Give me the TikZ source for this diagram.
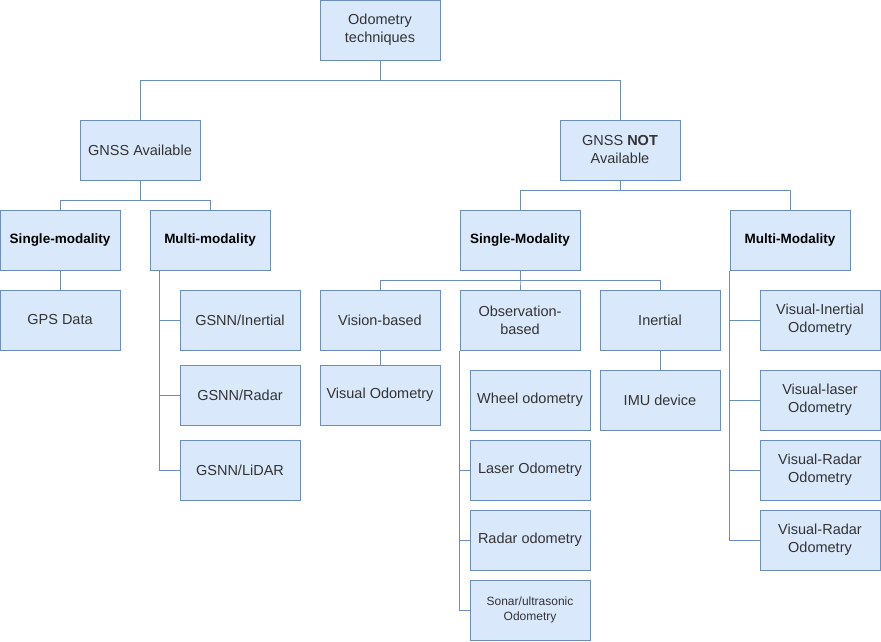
\documentclass[tikz,border=0pt]{standalone}
\usepackage{fontspec}
\setmainfont{Liberation Sans}
\usetikzlibrary{positioning,calc}
\definecolor{boxfill}{HTML}{DAE8FC}
\definecolor{boxline}{HTML}{6C8EBF}
\definecolor{txtgray}{HTML}{333333}
\tikzset{
  techbox/.style={draw=boxline, fill=boxfill, line width=1pt,
    minimum width=120pt, minimum height=60pt, align=center, inner sep=2pt,
    text=txtgray, font=\fontsize{14.5}{18}\selectfont},
  headbox/.style={techbox, text=black, font=\fontsize{13.5}{16}\selectfont\bfseries},
  smallbox/.style={techbox, font=\fontsize{12}{15}\selectfont},
  link/.style={draw=boxline, line width=1pt},
}

\begin{document}
\begin{tikzpicture}[x=1pt, y=-1pt]
  \useasboundingbox (0,0) rectangle (881,641);

  % top levels
  \node[techbox] (root)  at (380, 30) {Odometry\\techniques};
  \node[techbox] (gnssA) at (140,150) {GNSS Available};
  \node[techbox] (gnssN) at (620,150) {GNSS \textbf{NOT}\\Available};

  % GNSS available branch
  \node[headbox] (singA) at ( 60,240) {Single-modality};
  \node[headbox] (multA) at (210,240) {Multi-modality};
  \node[techbox] (gps)   at ( 60,320) {GPS Data};
  \node[techbox] (gsnnI) at (240,320) {GSNN/Inertial};
  \node[techbox] (gsnnR) at (240,395) {GSNN/Radar};
  \node[techbox] (gsnnL) at (240,470) {GSNN/LiDAR};

  % GNSS not available branch
  \node[headbox] (singN) at (520,240) {Single-Modality};
  \node[headbox] (multN) at (790,240) {Multi-Modality};
  \node[techbox] (vision) at (380,320) {Vision-based};
  \node[techbox] (obs)    at (520,320) {Observation-\\based};
  \node[techbox] (inert)  at (660,320) {Inertial};
  \node[techbox] (visodo) at (380,395) {Visual Odometry};
  \node[techbox] (wheel)  at (530,400) {Wheel odometry};
  \node[techbox] (laser)  at (530,470) {Laser Odometry};
  \node[techbox] (radar)  at (530,540) {Radar odometry};
  \node[smallbox] (sonar) at (530,610) {Sonar/ultrasonic\\Odometry};
  \node[techbox] (imu)    at (660,400) {IMU device};
  \node[techbox] (vio)    at (820,320) {Visual-Inertial\\Odometry};
  \node[techbox] (vlo)    at (820,400) {Visual-laser\\Odometry};
  \node[techbox] (vro)    at (820,470) {Visual-Radar\\Odometry};
  \node[techbox] (vrob)   at (820,540) {Visual-Radar\\Odometry};

  % tree connectors
  \draw[link] (root.south) -- ++(0,20) -| (gnssA.north);
  \draw[link] (root.south) -- ++(0,20) -| (gnssN.north);
  \draw[link] (gnssA.south) -- ++(0,20) -| (singA.north);
  \draw[link] (gnssA.south) -- ++(0,20) -| (multA.north);
  \draw[link] (gnssN.south) -- ++(0,10) -| (singN.north);
  \draw[link] (gnssN.south) -- ++(0,10) -| (multN.north);
  \draw[link] (singA) -- (gps);
  \draw[link] (singN.south) -- ++(0,10) -| (vision.north);
  \draw[link] (singN.south) -- ++(0,10) -| (obs.north);
  \draw[link] (singN.south) -- ++(0,10) -| (inert.north);
  \draw[link] (vision) -- (visodo);
  \draw[link] (inert) -- (imu);

  % side trunks
  \coordinate (mAtrunk) at ([xshift=10pt]multA.south west);
  \foreach \leaf in {gsnnI,gsnnR,gsnnL}
    \draw[link] (mAtrunk) |- (\leaf.west);
  \foreach \leaf in {laser,radar,sonar}
    \draw[link] (obs.south west) |- (\leaf.west);
  \foreach \leaf in {vio,vlo,vro,vrob}
    \draw[link] (multN.south west) |- (\leaf.west);

\end{tikzpicture}
\end{document}
